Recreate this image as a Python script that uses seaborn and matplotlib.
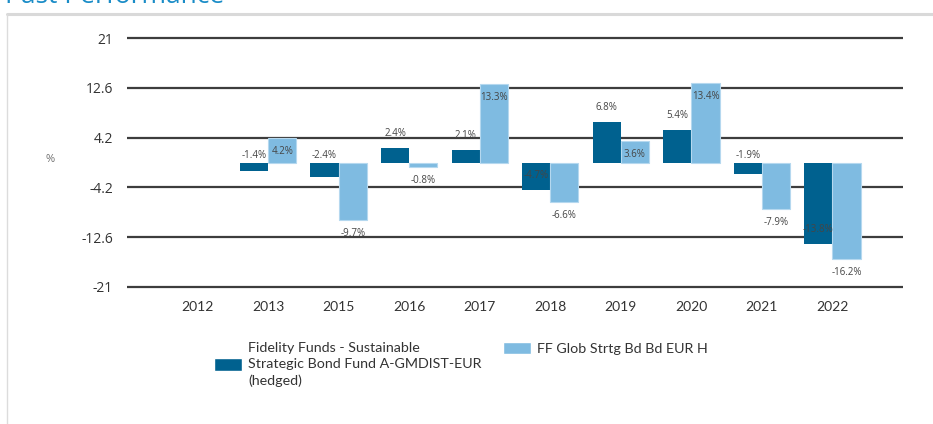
import numpy as np
import pandas as pd
import matplotlib
matplotlib.use("Agg")
import matplotlib.pyplot as plt
import seaborn as sns
from matplotlib.lines import Line2D

years = ["2012", "2013", "2015", "2016", "2017", "2018", "2019", "2020", "2021", "2022"]
fund_values = [np.nan, -1.4, -2.4, 2.4, 2.1, -4.7, 6.8, 5.4, -1.9, -13.8]
index_values = [np.nan, 4.2, -9.7, -0.8, 13.3, -6.6, 3.6, 13.4, -7.9, -16.2]
series_names = ["Fidelity Funds - Sustainable\nStrategic Bond Fund A-GMDIST-EUR\n(hedged)",
                "FF Glob Strtg Bd Bd EUR H"]
yticks = [-21, -12.6, -4.2, 4.2, 12.6, 21]
ytick_labels = ["-21", "-12.6", "-4.2", "4.2", "12.6", "21"]

dark = "#00618f"
light = "#7fbbe1"

df = pd.DataFrame({
    "year": years * 2,
    "value": fund_values + index_values,
    "series": [series_names[0]] * len(years) + [series_names[1]] * len(years),
})

sns.set_theme(style="white")
plt.rcParams["font.family"] = ["Open Sans", "DejaVu Sans"]

W, H = 933, 424
fig = plt.figure(figsize=(W / 100, H / 100), dpi=100)
ymin, ymax = -22, 22
ppu = (287 - 38) / 42.0
top_px = 38 - (ymax - 21) * ppu
bot_px = 287 + (-21 - ymin) * ppu
ax = fig.add_axes([127 / W, 1 - bot_px / H, (903 - 127) / W, (bot_px - top_px) / H])

sns.barplot(data=df, x="year", y="value", hue="series", order=years,
            hue_order=series_names, palette=[dark, light], width=0.8,
            saturation=1, ax=ax, legend=True, zorder=3)

for p in ax.containers[1]:
    p.set_edgecolor("#b5d8ef")
    p.set_linewidth(0.8)
for p in ax.containers[0]:
    p.set_edgecolor("none")

ax.set_xlim(-1, 10)
ax.set_ylim(ymin, ymax)
ax.set_yticks(yticks)
ax.set_yticklabels(ytick_labels)
for y in yticks:
    ax.axhline(y, color="#3d3d3d", lw=1.6, zorder=1)
for s in ax.spines.values():
    s.set_visible(False)
ax.set_xlabel("")
ax.set_ylabel("")
ax.tick_params(axis="y", length=0, pad=10, labelsize=10, labelcolor="#333333")
ax.tick_params(axis="x", length=0, pad=6, labelsize=10, labelcolor="#333333")
for t in ax.get_xticklabels():
    t.set_fontfamily(["Lato", "DejaVu Sans"])

pt = 72 / 100.0
# value labels
for ci, cont in enumerate(ax.containers):
    for p in cont:
        h = p.get_height()
        if np.isnan(h) or h == 0:
            continue
        val = p.get_y() + h if p.get_y() == 0 else h
        xc = p.get_x() + p.get_width() / 2
        txt = f"{val:.1f}%"
        if ci == 1:
            y, va, dy = val, "top", -8
        else:
            if val > 0:
                y, va, dy = val, "bottom", 9
            elif val > -3:
                y, va, dy = 0, "bottom", 1
            else:
                y, va, dy = val, "bottom", 9
        ax.annotate(txt, (xc, y), xytext=(0, dy * pt), textcoords="offset points",
                    ha="center", va=va, fontsize=7, color="#454545", zorder=5)

# legend: two separate entries, top aligned
handles, labels = ax.get_legend_handles_labels()
ax.get_legend().remove()
common = dict(loc="upper left", bbox_transform=fig.transFigure, frameon=False,
              fontsize=10.3, borderpad=0, handlelength=1.95, handleheight=0.95,
              handletextpad=0.45, borderaxespad=0)
leg1 = ax.legend([handles[0]], [labels[0]], bbox_to_anchor=(214 / W, 1 - 342 / H), **common)
ax.add_artist(leg1)
leg2 = ax.legend([handles[1]], [labels[1]], bbox_to_anchor=(503 / W, 1 - 342 / H), **common)
for leg in (leg1, leg2):
    for t in leg.get_texts():
        t.set_color("#333333")
        t.set_fontfamily(["Lato", "DejaVu Sans"])
        t.set_linespacing(1.4)

fig.text(50 / W, 1 - 160 / H, "%", fontsize=8, color="#707070", ha="center", va="center")

# frame and title
fig.add_artist(Line2D([7 / W, 1], [1 - 14 / H, 1 - 14 / H], color="#d9d9d9", lw=2.2,
                      transform=fig.transFigure))
fig.add_artist(Line2D([7 / W, 7 / W], [1 - 14 / H, 0], color="#dcdcdc", lw=1.0,
                      transform=fig.transFigure))
fig.text(5 / W, 1 - 3 / H, "Past Performance", fontsize=19, color="#1a8cc7",
         ha="left", va="baseline")

fig.savefig("out.png", dpi=100)
